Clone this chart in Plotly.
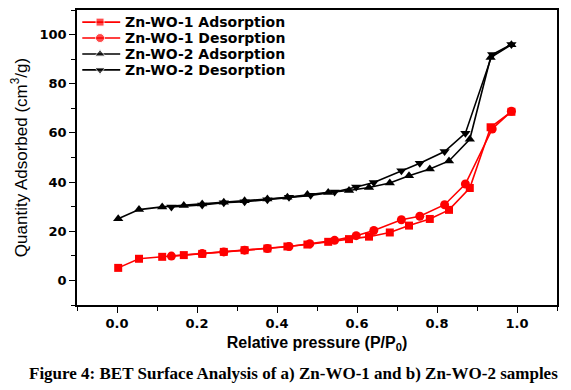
import plotly.graph_objects as go

# Data
wo1_ads_x = [0.003, 0.055, 0.113, 0.167, 0.213, 0.267, 0.319, 0.376, 0.426, 0.476, 0.528, 0.58, 0.63, 0.682, 0.73, 0.782, 0.83, 0.882, 0.934, 0.986]
wo1_ads_y = [5.1, 8.8, 9.6, 10.3, 10.8, 11.6, 12.3, 13.0, 13.8, 14.6, 15.7, 16.8, 17.8, 19.5, 22.3, 25.0, 28.7, 37.6, 62.3, 68.6]

wo1_des_x = [0.986, 0.938, 0.871, 0.819, 0.757, 0.711, 0.642, 0.598, 0.544, 0.482, 0.43, 0.376, 0.319, 0.267, 0.213, 0.136]
wo1_des_y = [68.8, 61.6, 39.2, 30.8, 26.1, 24.7, 20.3, 18.2, 16.3, 14.9, 13.8, 13.0, 12.3, 11.6, 10.9, 9.9]

wo2_ads_x = [0.003, 0.055, 0.113, 0.167, 0.213, 0.267, 0.319, 0.376, 0.426, 0.476, 0.528, 0.58, 0.63, 0.682, 0.73, 0.782, 0.83, 0.882, 0.934, 0.986]
wo2_ads_y = [25.1, 28.8, 29.9, 30.5, 31.1, 31.8, 32.4, 33.1, 33.8, 34.9, 35.8, 36.6, 37.8, 39.6, 42.6, 45.3, 48.6, 57.4, 90.7, 95.9]

wo2_des_x = [0.986, 0.938, 0.871, 0.819, 0.757, 0.711, 0.642, 0.598, 0.544, 0.484, 0.43, 0.376, 0.319, 0.267, 0.213, 0.136]
wo2_des_y = [96.0, 91.9, 59.9, 52.4, 47.7, 44.6, 39.8, 38.0, 36.0, 34.6, 33.8, 32.8, 32.0, 31.6, 30.7, 29.9]

series_names = ["Zn-WO-1 Adsorption", "Zn-WO-1 Desorption", "Zn-WO-2 Adsorption", "Zn-WO-2 Desorption"]
x_ticks = [0.0, 0.2, 0.4, 0.6, 0.8, 1.0]
x_ticktext = ["0.0", "0.2", "0.4", "0.6", "0.8", "1.0"]
y_ticks = [0, 20, 40, 60, 80, 100]

RED = "#ff0000"
BLACK = "#000000"
FONT = "Arial, Liberation Sans, sans-serif"
WIDE = "DejaVu Sans, Verdana, sans-serif"

fig = go.Figure()
series = [
    (wo1_ads_x, wo1_ads_y, RED, "square", 8),
    (wo1_des_x, wo1_des_y, RED, "circle", 9),
    (wo2_ads_x, wo2_ads_y, BLACK, "triangle-up", 9),
    (wo2_des_x, wo2_des_y, BLACK, "triangle-down", 9),
]
for name, (xs, ys, col, sym, sz) in zip(series_names, series):
    fig.add_trace(go.Scatter(
        x=xs, y=ys, name=name, mode="lines+markers", showlegend=False,
        line=dict(color=col, width=1.6),
        marker=dict(symbol=sym, size=sz, color=col),
    ))

# compact legend drawn on a hidden overlay axis (0..1 coordinates over the plot area)
leg_y = [0.959, 0.905, 0.851, 0.797]
annotations = []
for name, (xs, ys, col, sym, sz), ly in zip(series_names, series, leg_y):
    fig.add_trace(go.Scatter(
        x=[0.011, 0.048, 0.09], y=[ly, ly, ly], mode="lines+markers", showlegend=False,
        xaxis="x2", yaxis="y2", hoverinfo="skip",
        line=dict(color=col, width=1.6),
        marker=dict(symbol=sym, size=[0, sz, 0], color=col),
    ))
    annotations.append(dict(
        text=name, xref="paper", yref="paper", x=0.096, y=ly, xanchor="left", yanchor="middle",
        showarrow=False, font=dict(family=WIDE, size=14, color="black", weight="bold"),
    ))

annotations.append(dict(
    text="Figure 4: BET Surface Analysis of a) Zn-WO-1 and b) Zn-WO-2 samples",
    xref="paper", yref="paper", x=(293 - 77) / 480, y=-(373 - 305) / 295, xanchor="center", yanchor="middle",
    showarrow=False,
    font=dict(family="Times New Roman, Liberation Serif, serif", size=17, color="black", weight="bold"),
))

axis_common = dict(
    showline=True, linecolor="black", linewidth=1.5, mirror=True,
    ticks="outside", ticklen=6, tickwidth=1.3, tickcolor="black",
    showgrid=False, zeroline=False, automargin=False,
    tickfont=dict(family=WIDE, size=13, color="black", weight="bold"),
)

xaxis = dict(
    range=[-0.1, 1.1], tickmode="array", tickvals=x_ticks, ticktext=x_ticktext,
    minor=dict(dtick=0.1, tick0=0, ticks="outside", ticklen=4, tickcolor="black", tickwidth=1.2),
    title=dict(text="Relative pressure (P/P<sub>0</sub>)", font=dict(family=FONT, size=16, color="black", weight="bold"), standoff=6),
    **axis_common,
)
yaxis = dict(
    range=[-10, 110], tickmode="array", tickvals=y_ticks,
    minor=dict(dtick=10, tick0=0, ticks="outside", ticklen=4, tickcolor="black", tickwidth=1.2),
    title=dict(text="Quantity Adsorbed (cm<sup>3</sup>/g)", font=dict(family=FONT, size=17, color="black"), standoff=8),
    **axis_common,
)

fig.update_layout(
    width=571, height=390,
    margin=dict(l=77, r=14, t=10, b=85),
    paper_bgcolor="white", plot_bgcolor="white",
    showlegend=False,
    xaxis=xaxis,
    yaxis=yaxis,
    xaxis2=dict(overlaying="x", range=[0, 1], visible=False, fixedrange=True),
    yaxis2=dict(overlaying="y", range=[0, 1], visible=False, fixedrange=True),
    annotations=annotations,
)

fig.write_html("out.html", config={"displayModeBar": False},
               post_script="document.body.style.margin='0';document.body.style.padding='0';")
